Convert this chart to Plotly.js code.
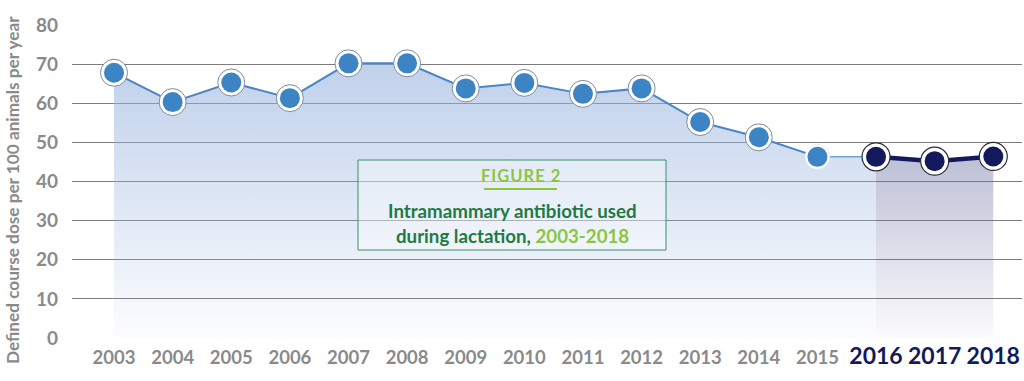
<!DOCTYPE html>
<html><head><meta charset="utf-8">
<script src="https://cdn.plot.ly/plotly-3.0.1.min.js"></script>
<style>html,body{margin:0;padding:0;background:#fff}#chart{width:1024px;height:381px}</style>
</head><body><div id="chart"></div>
<script>
const years = [2003,2004,2005,2006,2007,2008,2009,2010,2011,2012,2013,2014,2015,2016,2017,2018];
const values = [67.8,60.3,65.3,61.3,70.2,70.2,63.8,65.2,62.4,63.8,55.2,51.3,46.3,46.3,45.2,46.4];
const yTicks = [0,10,20,30,40,50,60,70,80];
const highlightYears = [2016,2017,2018];
const yTitle = "Defined course dose per 100 animals per year";
const figLabel = "FIGURE 2";
const boxLine1 = "Intramammary antibiotic used";
const boxLine2a = "during lactation, ";
const boxLine2b = "2003-2018";

const FONT = "Lato, 'Open Sans', sans-serif";
const GREY = "#8a8a8a", NAVY = "#131a5c", BLUE = "#3d84c4";
const dkGreen = "#1f7a45", ltGreen = "#8cc63f";

const hiIdx = years.map((y,i)=>highlightYears.includes(y)?i:-1).filter(i=>i>=0);
const first = hiIdx[0];
const pre = years.map((y,i)=>i).filter(i=>i<first);

const pick = (arr, idx) => idx.map(i=>arr[i]);
const preX = pick(years, pre), preY = pick(values, pre);
const hiX = pick(years, hiIdx), hiY = pick(values, hiIdx);
const fillIdx = pre.concat([first]);

const traces = [
  {x: pick(years, fillIdx), y: pick(values, fillIdx), type:'scatter', mode:'lines', line:{width:0, color:'rgba(0,0,0,0)'},
   fill:'tozeroy', fillgradient:{type:'vertical', start:0, stop:70,
     colorscale:[[0,'rgba(150,178,222,0.03)'],[1,'rgba(150,178,222,0.6)']]}, hoverinfo:'skip'},
  {x: hiX, y: hiY, type:'scatter', mode:'lines', line:{width:0, color:'rgba(0,0,0,0)'},
   fill:'tozeroy', fillgradient:{type:'vertical', start:0, stop:46,
     colorscale:[[0,'rgba(110,115,165,0.03)'],[1,'rgba(110,115,165,0.45)']]}, hoverinfo:'skip'},
  {x: preX, y: preY, type:'scatter', mode:'lines', line:{width:2, color:'#4a86c3'}},
  {x: [preX[preX.length-1], hiX[0]], y: [preY[preY.length-1], hiY[0]], type:'scatter', mode:'lines', line:{width:1.5, color:'#6ea6d8'}},
  {x: hiX, y: hiY, type:'scatter', mode:'lines', line:{width:4.5, color:NAVY}},
  {x: preX.slice(0,-1), y: preY.slice(0,-1), type:'scatter', mode:'markers',
   marker:{size:27, color:'#ffffff', line:{width:1, color:'#7d8aa3'}}},
  {x: preX.slice(-1), y: preY.slice(-1), type:'scatter', mode:'markers',
   marker:{size:25, color:'#ffffff', line:{width:0.5, color:'#d8dde8'}}},
  {x: preX, y: preY, type:'scatter', mode:'markers', marker:{size:20, color:BLUE, line:{width:0}}},
  {x: hiX, y: hiY, type:'scatter', mode:'markers',
   marker:{size:28, color:'#ffffff', line:{width:1.2, color:'#2a2a3a'}}},
  {x: hiX, y: hiY, type:'scatter', mode:'markers', marker:{size:20, color:NAVY, line:{width:0}}}
];

const tickText = years.map(y => highlightYears.includes(y)
  ? `<span style="font-size:23px;color:${NAVY}"><b>${y}</b></span>`
  : `<b>${y}</b>`);

const x0 = 72, plotW = 950;
const boxL = (358-x0)/plotW, boxR = (666-x0)/plotW;
const pxToY = p => (338-p)/313*80;
const cx = (512-x0)/plotW;

const layout = {
  width:1024, height:381,
  margin:{l:72, r:2, t:25, b:43},
  paper_bgcolor:'#ffffff', plot_bgcolor:'#ffffff',
  showlegend:false,
  font:{family:FONT},
  xaxis:{range:[2002.283, 2018.49], tickvals:years, ticktext:tickText, showgrid:false, zeroline:false,
    tickfont:{family:FONT, size:18.5, color:GREY}, ticks:'', ticklabelstandoff:6, showline:false, fixedrange:true},
  yaxis:{range:[0,80], tickvals:yTicks, ticktext:yTicks.map(v=>`<b>${v}</b>`), showgrid:true, gridcolor:'#7d7d7d', gridwidth:1,
    zeroline:false, tickfont:{family:FONT, size:19, color:GREY}, ticks:'', ticklabelstandoff:13, showline:false, fixedrange:true},
  shapes:[
    {type:'rect', xref:'paper', yref:'y', x0:boxL, x1:boxR, y0:pxToY(250), y1:pxToY(160),
     line:{color:'#3c8f68', width:1}, fillcolor:'rgba(255,255,255,0.35)', layer:'above'},
    {type:'line', xref:'paper', yref:'y', x0:(484-x0)/plotW, x1:(557-x0)/plotW, y0:pxToY(189), y1:pxToY(189),
     line:{color:ltGreen, width:2}, layer:'above'}
  ],
  annotations:[
    {text:`<b>${yTitle}</b>`, xref:'paper', yref:'paper', x:-(72-12)/plotW, y:(338-190)/313, textangle:-90,
     xanchor:'center', yanchor:'middle', showarrow:false, font:{family:FONT, size:17.2, color:GREY}},
    {text:`<b>${figLabel.split('').join('\u200A')}</b>`, xref:'paper', yref:'y', x:(520-x0)/plotW, y:pxToY(176), showarrow:false,
     xanchor:'center', yanchor:'middle', font:{family:FONT, size:16.5, color:ltGreen}},
    {text:`<b>${boxLine1}</b>`, xref:'paper', yref:'y', x:cx, y:pxToY(211), showarrow:false,
     xanchor:'center', yanchor:'middle', font:{family:FONT, size:18.7, color:dkGreen}},
    {text:`<b>${boxLine2a}<span style="color:${ltGreen}">${boxLine2b}</span></b>`, xref:'paper', yref:'y', x:cx, y:pxToY(236), showarrow:false,
     xanchor:'center', yanchor:'middle', font:{family:FONT, size:18.7, color:dkGreen}}
  ]
};

Plotly.newPlot('chart', traces, layout, {displayModeBar:false, staticPlot:true});
</script></body></html>
